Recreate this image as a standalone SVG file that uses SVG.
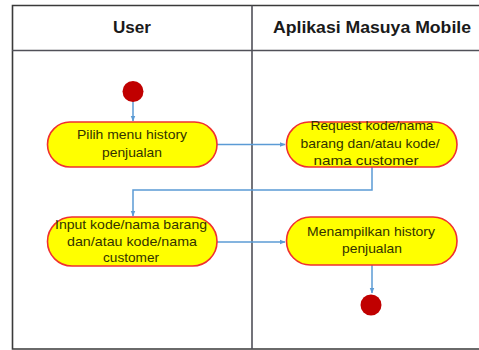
<svg xmlns="http://www.w3.org/2000/svg" width="479" height="350" viewBox="0 0 479 350">
<style>
.frame{fill:none;stroke:#3a3a3a;stroke-width:1.6}
.div{fill:none;stroke:#505058;stroke-width:1.6}
.hdr{font-family:"Liberation Sans",Arial,sans-serif;font-weight:bold;font-size:16.5px;fill:#1a1a1a;text-anchor:middle}
.act{fill:#ffff00;stroke:#f03030;stroke-width:1.6}
.lbl{font-family:"Liberation Sans",Arial,sans-serif;font-size:13px;fill:#333300;text-anchor:middle}
.con{fill:none;stroke:#5b9bd5;stroke-width:1.5}
.dot{fill:#c00000}
</style>
<defs>
<marker id="arr" viewBox="0 0 10 10" refX="9" refY="5" markerWidth="6" markerHeight="6" markerUnits="userSpaceOnUse" orient="auto">
<path d="M0,1 L10,5 L0,9 z" fill="#5b9bd5"/>
</marker>
</defs>
<g id="swimlanes">
<path class="frame" d="M479,5.5 H12.5 V349 H479"/>
<line class="div" x1="12" y1="50.5" x2="479" y2="50.5"/>
<line class="div" x1="252" y1="5.5" x2="252" y2="349"/>
<text class="hdr" x="132" y="33" textLength="38" lengthAdjust="spacingAndGlyphs">User</text>
<text class="hdr" x="372" y="33" textLength="198" lengthAdjust="spacingAndGlyphs">Aplikasi Masuya Mobile</text>
</g>
<g id="connectors">
<line class="con" x1="133" y1="95" x2="133" y2="121" marker-end="url(#arr)"/>
<line class="con" x1="217" y1="144.5" x2="285" y2="144.5" marker-end="url(#arr)"/>
<polyline class="con" points="372,167 372,190 133,190 133,216" marker-end="url(#arr)"/>
<line class="con" x1="217" y1="242" x2="285" y2="242" marker-end="url(#arr)"/>
<line class="con" x1="372" y1="265" x2="372" y2="293" marker-end="url(#arr)"/>
</g>
<g id="start"><circle class="dot" cx="133" cy="91.5" r="10.5"/></g>
<g id="n1">
<rect class="act" x="47.5" y="122" width="169.5" height="45" rx="22.5"/>
<text class="lbl" x="132" y="138.5" textLength="110" lengthAdjust="spacingAndGlyphs">Pilih menu history</text>
<text class="lbl" x="132" y="156.5" textLength="60" lengthAdjust="spacingAndGlyphs">penjualan</text>
</g>
<g id="n2">
<rect class="act" x="286.5" y="122" width="170.5" height="45" rx="22.5"/>
<text class="lbl" x="372" y="129.5" textLength="123" lengthAdjust="spacingAndGlyphs">Request kode/nama</text>
<text class="lbl" x="370" y="147.5" textLength="139" lengthAdjust="spacingAndGlyphs">barang dan/atau kode/</text>
<text class="lbl" x="366" y="165" textLength="105" lengthAdjust="spacingAndGlyphs">nama customer</text>
</g>
<g id="n3">
<rect class="act" x="47.5" y="217" width="169.5" height="49" rx="24.5"/>
<text class="lbl" x="131" y="228.5" textLength="152" lengthAdjust="spacingAndGlyphs">Input kode/nama barang</text>
<text class="lbl" x="132" y="245.5" textLength="130" lengthAdjust="spacingAndGlyphs">dan/atau kode/nama</text>
<text class="lbl" x="131" y="262" textLength="56" lengthAdjust="spacingAndGlyphs">customer</text>
</g>
<g id="n4">
<rect class="act" x="286.5" y="217" width="170.5" height="48" rx="24"/>
<text class="lbl" x="371" y="236" textLength="128" lengthAdjust="spacingAndGlyphs">Menampilkan history</text>
<text class="lbl" x="372" y="253" textLength="60" lengthAdjust="spacingAndGlyphs">penjualan</text>
</g>
<g id="end"><circle class="dot" cx="371" cy="305" r="10.5"/></g>
</svg>
